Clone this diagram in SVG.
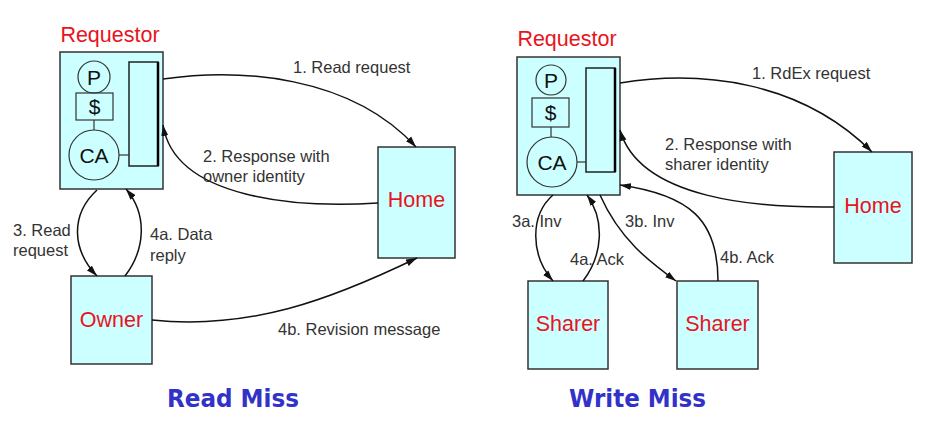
<svg xmlns="http://www.w3.org/2000/svg" width="927" height="439" viewBox="0 0 927 439">
<style>
.box{fill:#ccffff;stroke:#333;stroke-width:1.5}
.inner{fill:#ccffff;stroke:#222;stroke-width:1.5}
.thin{fill:none;stroke:#333;stroke-width:1.2}
.node{font-family:"Liberation Sans",Arial,sans-serif;font-size:21.5px;fill:#e8141e;text-anchor:middle}
.sym{font-family:"Liberation Sans",Arial,sans-serif;font-size:21px;fill:#111;text-anchor:middle}
.lbl{font-family:"Liberation Sans",Arial,sans-serif;font-size:16.5px;fill:#333}
.title{font-family:"DejaVu Sans",Verdana,sans-serif;font-weight:bold;font-size:25px;fill:#3232c8}
.conn{fill:none;stroke:#111;stroke-width:1.5}
</style>
<defs>
<marker id="ah" markerUnits="userSpaceOnUse" markerWidth="12" markerHeight="8" refX="11" refY="4" orient="auto">
<path d="M0,0.5 L11,4 L0,7.5 z" fill="#111"/>
</marker>
</defs>

<g id="req-left">
<rect class="box" x="60" y="52" width="103" height="137"/>
<text class="node" x="110" y="42">Requestor</text>
<rect class="inner" x="129" y="62" width="29" height="104"/>
<line x1="158" y1="62" x2="158" y2="166" stroke="#000" stroke-width="2.5"/>
<circle class="thin" cx="94" cy="77" r="16"/>
<text class="sym" x="94" y="85">P</text>
<rect class="thin" x="76" y="93" width="37" height="27"/>
<text class="sym" x="94.5" y="114">$</text>
<line class="thin" x1="94" y1="120" x2="94" y2="130"/>
<circle class="thin" cx="94" cy="155" r="25"/>
<text class="sym" x="94" y="163">CA</text>
<line class="thin" x1="119" y1="155" x2="129" y2="155"/>
</g>

<g id="home-left">
<rect class="box" x="378" y="147" width="77" height="111"/>
<text class="node" x="416.5" y="207">Home</text>
</g>

<g id="owner">
<rect class="box" x="71" y="276" width="81" height="88"/>
<text class="node" x="111.5" y="327">Owner</text>
</g>

<g id="req-right">
<rect class="box" x="517" y="57" width="103" height="138"/>
<text class="node" x="567" y="46">Requestor</text>
<rect class="inner" x="586" y="68" width="29" height="104"/>
<line x1="615" y1="68" x2="615" y2="172" stroke="#000" stroke-width="2.5"/>
<circle class="thin" cx="551" cy="80" r="15"/>
<text class="sym" x="551" y="88">P</text>
<rect class="thin" x="532" y="98" width="37" height="29"/>
<text class="sym" x="550.5" y="120">$</text>
<line class="thin" x1="551" y1="127" x2="551" y2="137"/>
<circle class="thin" cx="552" cy="162" r="25"/>
<text class="sym" x="552" y="170">CA</text>
<line class="thin" x1="577" y1="162" x2="586" y2="162"/>
</g>

<g id="home-right">
<rect class="box" x="834" y="152" width="78" height="111"/>
<text class="node" x="873" y="213">Home</text>
</g>

<g id="sharer1">
<rect class="box" x="528" y="281" width="80" height="88"/>
<text class="node" x="568" y="331">Sharer</text>
</g>

<g id="sharer2">
<rect class="box" x="677" y="281" width="81" height="88"/>
<text class="node" x="717.5" y="331">Sharer</text>
</g>

<g id="connectors">
<path class="conn" d="M163,79 C240,68 350,75 416,147" marker-end="url(#ah)"/>
<path class="conn" d="M378,203 C300,208 175,200 163,125" marker-end="url(#ah)"/>
<path class="conn" d="M97,190 C70,215 72,250 97,276" marker-end="url(#ah)"/>
<path class="conn" d="M125,276 C145,250 148,215 126,189" marker-end="url(#ah)"/>
<path class="conn" d="M152,320 C250,330 330,300 417,258" marker-end="url(#ah)"/>

<path class="conn" d="M620,83 C700,70 800,80 872,152" marker-end="url(#ah)"/>
<path class="conn" d="M834,207 C760,208 640,200 620,130" marker-end="url(#ah)"/>
<path class="conn" d="M553,195 C530,215 530,255 553,281" marker-end="url(#ah)"/>
<path class="conn" d="M583,281 C603,255 605,220 587,195" marker-end="url(#ah)"/>
<path class="conn" d="M600,195 C620,240 650,262 676,281" marker-end="url(#ah)"/>
<path class="conn" d="M718,281 C718,220 690,195 620,185" marker-end="url(#ah)"/>
</g>

<g id="labels">
<text class="lbl" x="293" y="73">1. Read request</text>
<text class="lbl" x="203" y="162">2. Response with</text>
<text class="lbl" x="203" y="182">owner identity</text>
<text class="lbl" x="13" y="236">3. Read</text>
<text class="lbl" x="13" y="256">request</text>
<text class="lbl" x="150" y="240">4a. Data</text>
<text class="lbl" x="150" y="261">reply</text>
<text class="lbl" x="278" y="335">4b. Revision message</text>

<text class="lbl" x="752" y="79">1. RdEx request</text>
<text class="lbl" x="665" y="150">2. Response with</text>
<text class="lbl" x="665" y="170">sharer identity</text>
<text class="lbl" x="512" y="227">3a. Inv</text>
<text class="lbl" x="625" y="227">3b. Inv</text>
<text class="lbl" x="570" y="265">4a. Ack</text>
<text class="lbl" x="720" y="263">4b. Ack</text>

<text class="title" x="167" y="407" textLength="132" lengthAdjust="spacingAndGlyphs">Read Miss</text>
<text class="title" x="569" y="407" textLength="137" lengthAdjust="spacingAndGlyphs">Write Miss</text>
</g>
</svg>
